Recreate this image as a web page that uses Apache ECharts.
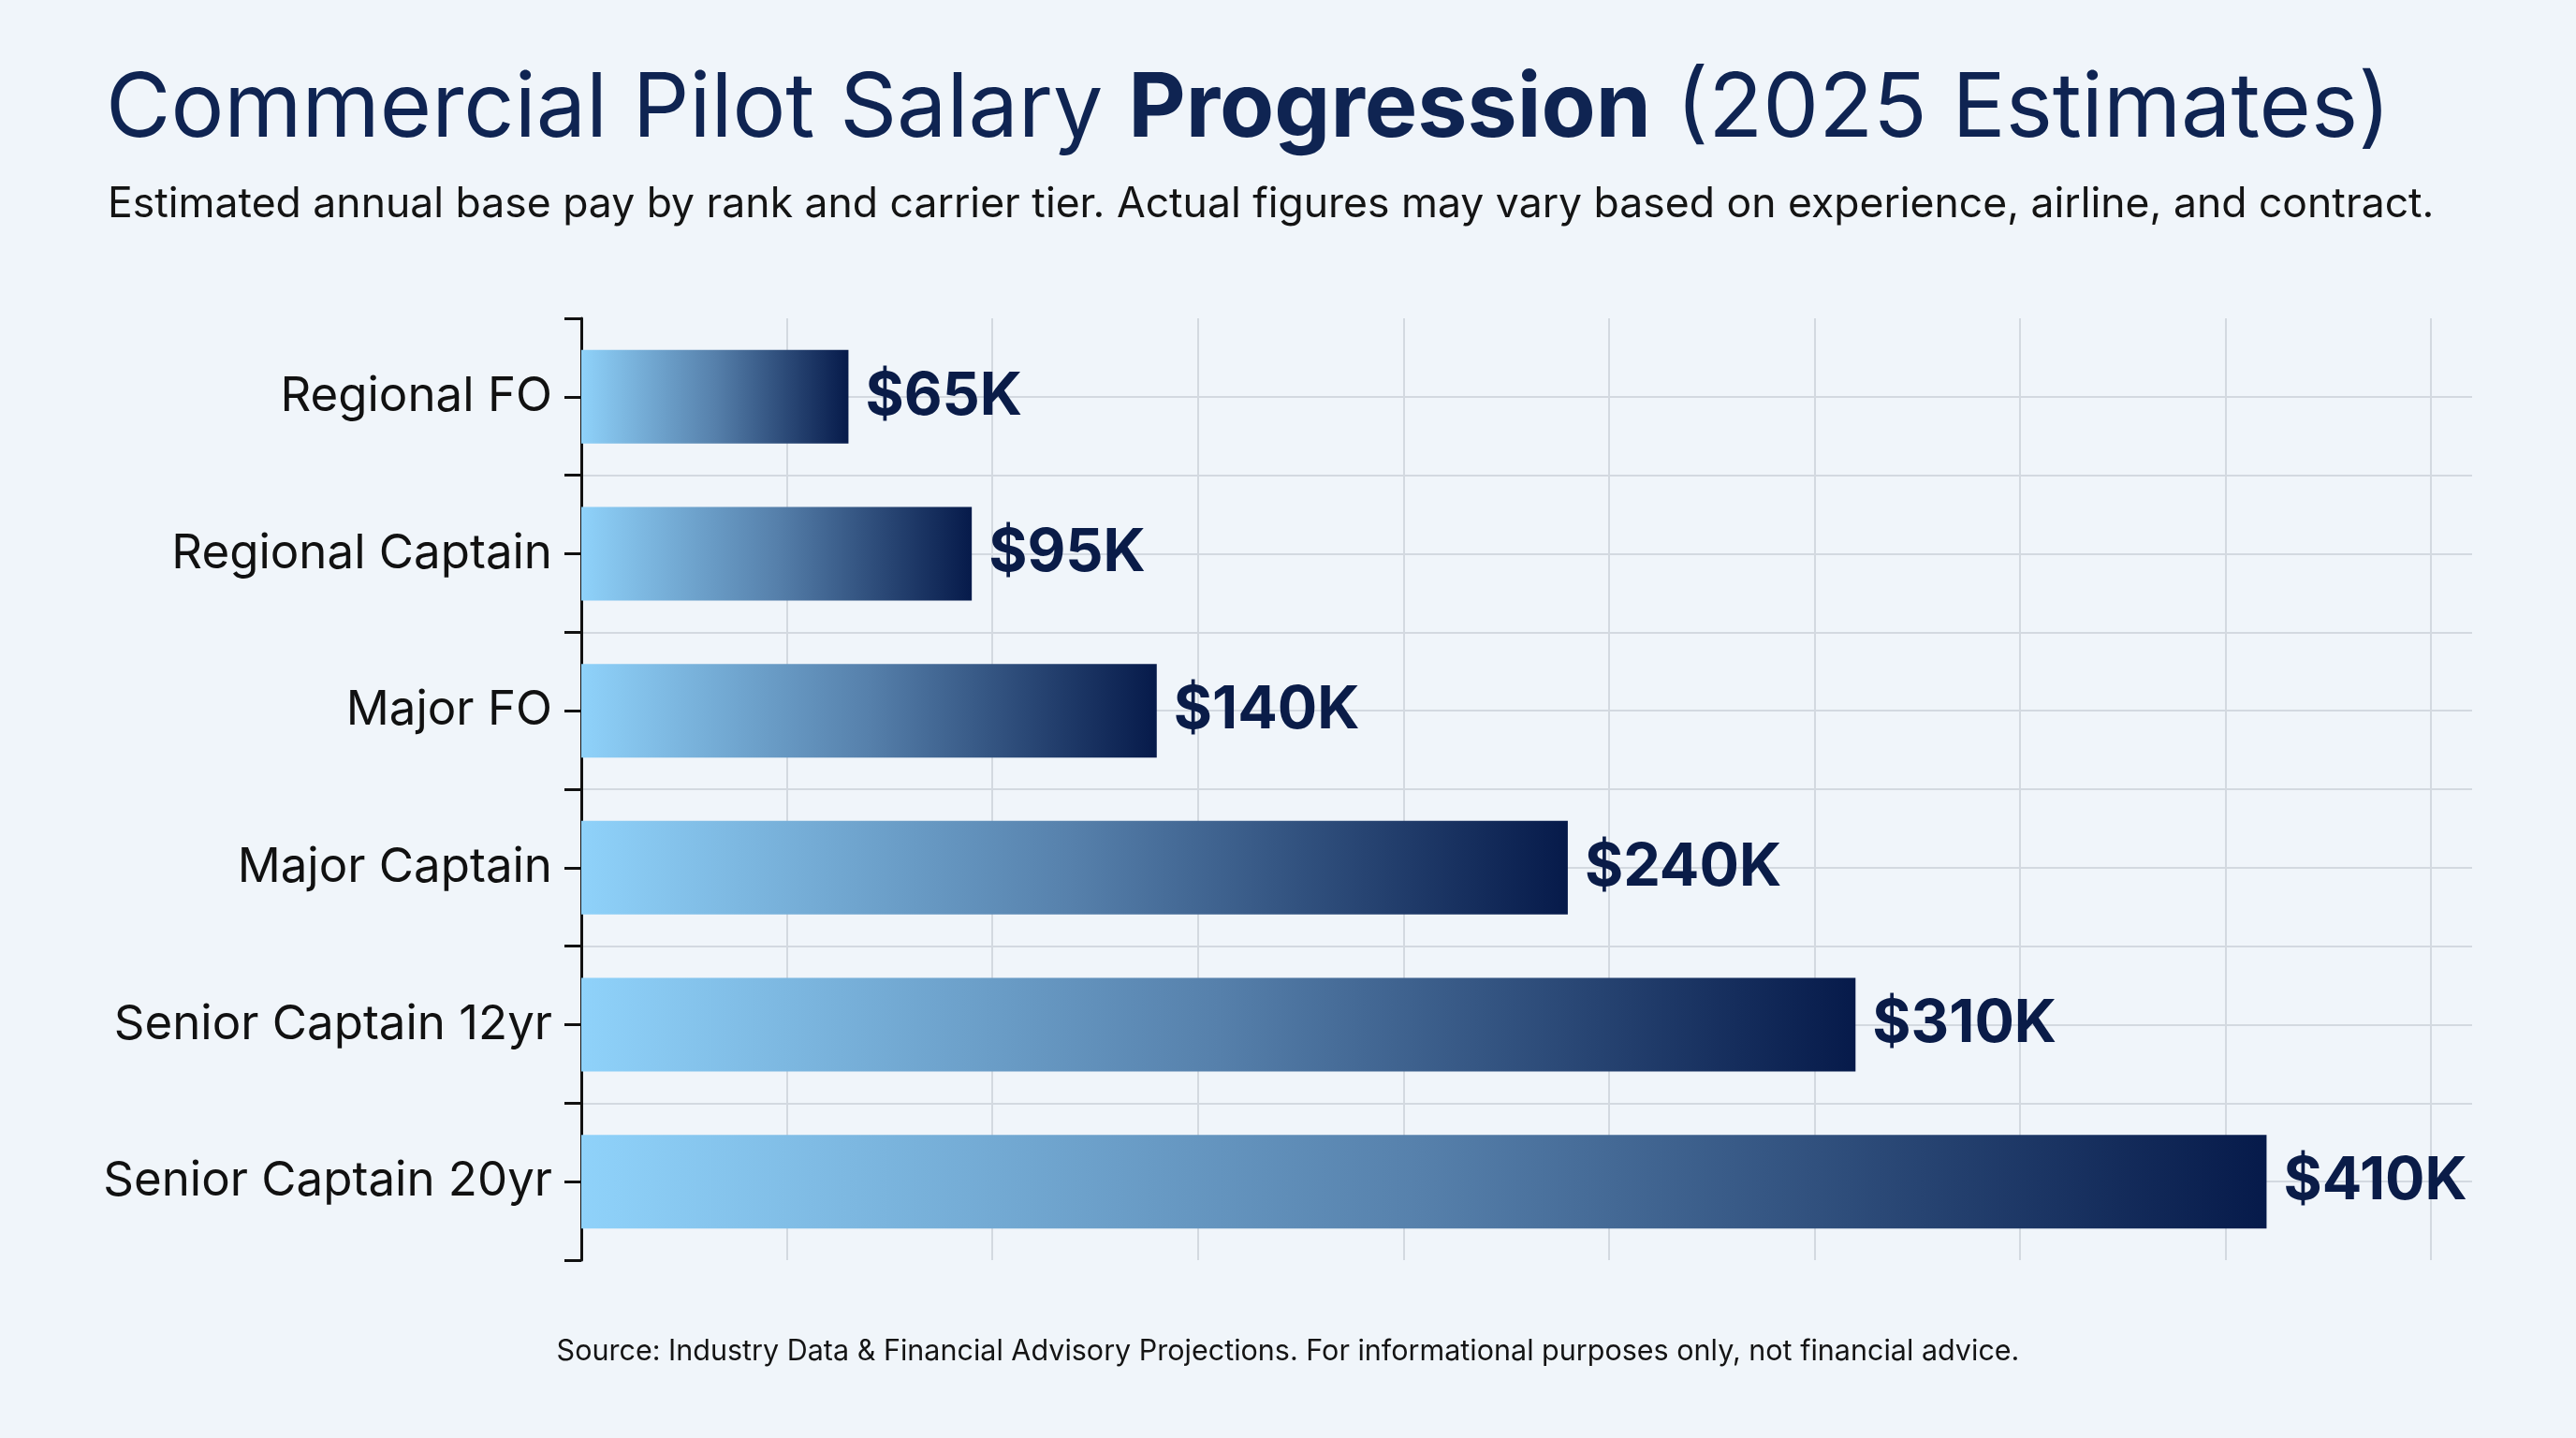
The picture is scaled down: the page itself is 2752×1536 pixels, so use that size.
<!DOCTYPE html>
<html>
<head>
<meta charset="utf-8">
<title>Commercial Pilot Salary Progression</title>
<script src="https://cdn.jsdelivr.net/npm/echarts@6/dist/echarts.min.js"></script>
<style>
  html, body { margin: 0; padding: 0; background: #f0f5fa; }
  #chart { width: 2752px; height: 1536px; }
</style>
</head>
<body>
<div id="chart"></div>
<script>
// ranks, top to bottom
var ranks = ["Regional FO", "Regional Captain", "Major FO", "Major Captain", "Senior Captain 12yr", "Senior Captain 20yr"];
// base pay, thousands of USD
var salaries = [65, 95, 140, 240, 310, 410];

var titleText = "Commercial Pilot Salary ";
var titleBold = "Progression";
var titleTail = " (2025 Estimates)";
var subText = "Estimated annual base pay by rank and carrier tier. Actual figures may vary based on experience, airline, and contract.";
var sourceText = "Source: Industry Data & Financial Advisory Projections. For informational purposes only, not financial advice.";

// two slots per rank, gives ticks/grid lines at centers and boundaries
var halfSlots = [];
for (var i = 0; i < ranks.length; i++) {
    halfSlots.push(ranks[i] + " a");
    halfSlots.push(ranks[i] + " b");
}

var font = "Inter";
var navy = "#0f2452";
var gridColor = "#d3d9e0";

var chart = echarts.init(document.getElementById("chart"));
chart.setOption({
    backgroundColor: "#f0f5fa",
    textStyle: { fontFamily: font },
    title: [{
        text: "{r|" + titleText + "}{b|" + titleBold + "}{r|" + titleTail + "}",
        left: 108,
        top: 65,
        textStyle: {
            rich: {
                r: { fontFamily: font, fontSize: 95, fontWeight: 400, color: navy },
                b: { fontFamily: font, fontSize: 95, fontWeight: 700, color: navy }
            }
        }
    }, {
        text: subText,
        left: 110,
        top: 191,
        textStyle: { fontFamily: font, fontSize: 44.5, fontWeight: 400, color: "#141414" }
    }, {
        text: sourceText,
        left: "center",
        top: 1423,
        textStyle: { fontFamily: font, fontSize: 30.5, fontWeight: 400, color: "#141414" }
    }],
    grid: { left: 621, right: 111, top: 340, bottom: 190, containLabel: false },
    xAxis: {
        type: "value",
        min: 0,
        max: 460,
        interval: 50,
        axisLine: { show: false },
        axisTick: { show: false },
        axisLabel: { show: false },
        splitLine: { show: true, showMinLine: false, showMaxLine: false, lineStyle: { color: gridColor, width: 2 } }
    },
    yAxis: [{
        type: "category",
        data: ranks,
        inverse: true,
        axisLine: { show: true, lineStyle: { color: "#111111", width: 3 } },
        axisTick: { show: false },
        axisLabel: { fontFamily: font, fontSize: 51, color: "#111111", margin: 31 },
        splitLine: { show: false }
    }, {
        type: "category",
        data: halfSlots,
        inverse: true,
        position: "left",
        axisLine: { show: false },
        axisTick: { show: true, length: 18, lineStyle: { color: "#111111", width: 3 } },
        axisLabel: { show: false },
        splitLine: { show: true, showMinLine: false, showMaxLine: false, lineStyle: { color: gridColor, width: 2 } }
    }],
    series: [{
        type: "bar",
        yAxisIndex: 0,
        data: salaries,
        barWidth: 100,
        itemStyle: {
            color: new echarts.graphic.LinearGradient(0, 0, 1, 0, [
                { offset: 0, color: "#8fd2fa" },
                { offset: 0.5, color: "#5680ab" },
                { offset: 1, color: "#061a4a" }
            ])
        },
        label: {
            show: true,
            position: "right",
            distance: 18,
            fontFamily: font,
            fontSize: 63,
            fontWeight: 700,
            color: "#0a1c48",
            formatter: function (p) { return "$" + p.value + "K"; }
        }
    }]
});
</script>
</body>
</html>
